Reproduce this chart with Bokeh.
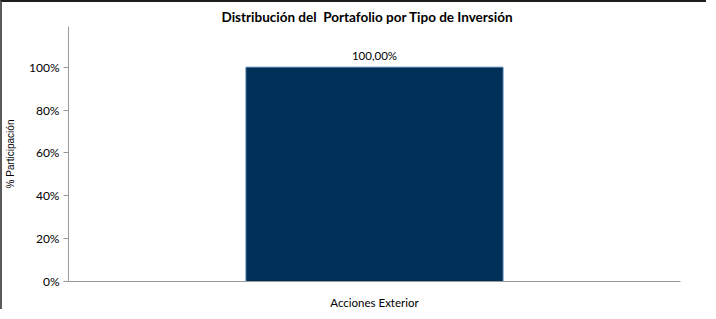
from bokeh.plotting import figure
from bokeh.models import ColumnDataSource, LabelSet, FixedTicker, Range1d, FactorRange
from bokeh.core.properties import value
from bokeh.embed import file_html
from bokeh.resources import INLINE

categories = ["Acciones Exterior"]
shares = [1.0]
share_labels = ["100,00%"]
y_ticks = [0.0, 0.2, 0.4, 0.6, 0.8, 1.0]
y_tick_labels = ["0%", "20%", "40%", "60%", "80%", "100%"]
title_text = "Distribución del \u00a0Portafolio por Tipo de Inversión"
y_title = "% Participación"

source = ColumnDataSource(dict(cat=categories, share=shares, lab=share_labels))

p = figure(
    x_range=FactorRange(*categories, range_padding=0),
    y_range=Range1d(0, 1.19),
    width=706, height=309,
    output_backend="svg", toolbar_location=None,
    min_border_left=64, min_border_right=28, min_border_top=24, min_border_bottom=27,
)
p.styles = {"border-left": "2px solid #5a5a5a", "border-top": "2px solid #1e1e1e"}

p.title.text = title_text
p.title.text_font = "Lato"
p.title.text_font_size = "13.5px"
p.title.text_font_style = "bold"
p.title.text_color = "#000000"
p.title.align = "left"
p.title.offset = 153
p.title.standoff = 4

p.vbar(x="cat", top="share", width=0.42, source=source,
       fill_color="#003057", line_color="#4a78a8", line_width=1)

labels = LabelSet(x="cat", y="share", text="lab", source=source,
                  text_align="center", text_baseline="bottom", y_offset=5,
                  text_font=value("Lato"), text_font_size=value("11.5px"),
                  text_color="#000000")
p.add_layout(labels)

p.xgrid.visible = False
p.ygrid.visible = False
p.outline_line_color = None
p.background_fill_color = "white"
p.border_fill_color = "white"

yax = p.yaxis[0]
yax.ticker = FixedTicker(ticks=y_ticks)
yax.major_label_overrides = {t: l for t, l in zip(y_ticks, y_tick_labels)}
yax.minor_tick_line_color = None
yax.major_tick_in = 0
yax.major_tick_out = 5
yax.major_tick_line_color = "#999999"
yax.axis_line_color = "#999999"
yax.major_label_standoff = 4
yax.major_label_text_font = "Lato"
yax.major_label_text_font_size = "12px"
yax.major_label_text_color = "#000000"
yax.axis_label = y_title
yax.axis_label_text_font = "Liberation Sans"
yax.axis_label_text_font_size = "10px"
yax.axis_label_text_font_style = "normal"
yax.axis_label_text_color = "#000000"
yax.axis_label_standoff = 10

xax = p.xaxis[0]
xax.major_tick_line_color = None
xax.minor_tick_line_color = None
xax.axis_line_color = "#999999"
xax.major_label_standoff = 8
xax.major_label_text_font = "Lato"
xax.major_label_text_font_size = "11.5px"
xax.major_label_text_color = "#000000"

open("out.html", "w").write(file_html(p, INLINE))
